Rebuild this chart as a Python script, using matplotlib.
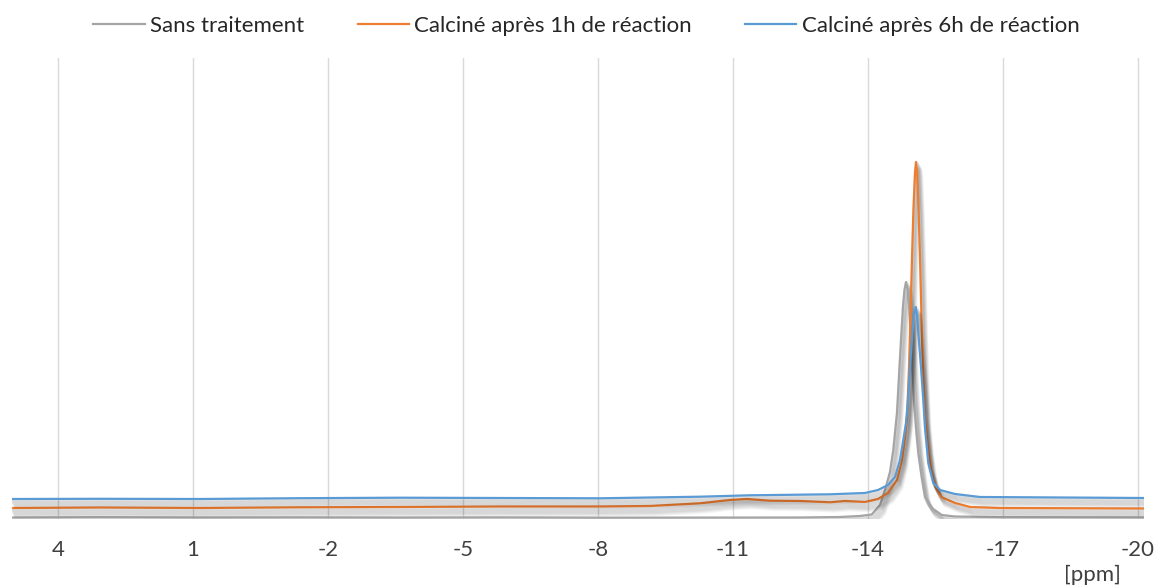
import matplotlib
matplotlib.use("Agg")
import matplotlib.pyplot as plt
import matplotlib.patheffects as pe

plt.rcParams['font.family'] = ['Lato', 'DejaVu Sans']

# ---- data (ppm, intensity) ----
sans_ppm = [5.022, 3.067, 0.844, -1.378, -3.6, -5.822, -8.044, -10.267, -12.489,
            -13.378, -13.822, -14.082, -14.267, -14.378, -14.489, -14.562, -14.644,
            -14.711, -14.778, -14.811, -14.844, -14.878, -14.911, -14.971, -15.022,
            -15.067, -15.118, -15.193, -15.267, -15.416, -15.638, -15.933, -16.933, -20.133]
sans_int = [0.5, 0.8, 0.5, 0.6, 0.4, 0.6, 0.3, 0.4, 0.5,
            1, 2, 3.5, 13, 28, 46, 68, 105,
            160, 212, 228, 236, 229, 214, 168, 118,
            90, 65, 41, 21, 10, 3, 1.5, 0.8, 0.6]

c1h_ppm = [5.022, 3.067, 0.844, -1.378, -3.6, -5.822, -8.044, -9.156, -10.267,
           -10.933, -11.311, -11.822, -12.489, -13.156, -13.489, -13.933, -14.222,
           -14.444, -14.644, -14.756, -14.822, -14.867, -14.911, -14.944, -14.978,
           -15.011, -15.044, -15.067, -15.089, -15.122, -15.156, -15.189, -15.222,
           -15.267, -15.333, -15.4, -15.489, -15.622, -15.933, -16.267, -16.933, -20.133]
c1h_int = [10, 10.5, 10, 10.7, 11, 11.5, 11.5, 12, 14.7,
           18, 19, 17.3, 17, 15.7, 17, 16, 19,
           25, 38, 58, 81, 100, 150, 200, 260,
           310, 345, 356, 348, 310, 260, 200, 150,
           100, 70, 48, 32, 21, 15, 11, 10, 9.5]

c6h_ppm = [5.022, 3.067, 0.844, -1.378, -3.6, -5.822, -8.044, -10.267, -11.378,
           -13.156, -13.933, -14.222, -14.444, -14.6, -14.711, -14.784, -14.844,
           -14.889, -14.933, -14.984, -15.022, -15.060, -15.089, -15.118, -15.178,
           -15.229, -15.267, -15.340, -15.451, -15.6, -15.933, -16.489, -20.133]
c6h_int = [19, 19.2, 19, 19.8, 20.3, 20, 19.7, 21.3, 22.7,
           23.7, 25, 28, 33, 41, 58, 78, 95,
           118, 151, 185, 203, 211, 203, 185, 151,
           118, 90, 55, 35, 28, 24, 21, 20]

labels = ['Sans traitement', 'Calciné après 1h de réaction', 'Calciné après 6h de réaction']
colors = ['#A5A5A5', '#ED7D31', '#5B9BD5']
tick_vals = [4, 1, -2, -5, -8, -11, -14, -17, -20]

W, H = 1159, 585
fig = plt.figure(figsize=(W / 100, H / 100), dpi=100)
ax = fig.add_axes([12 / W, 1 - 519 / H, (1144 - 12) / W, (519 - 58) / H])

shadow = [pe.SimpleLineShadow(offset=(0.4 * d, -0.75 * d), shadow_color='#000000',
                              alpha=0.045, linewidth=2.8) for d in range(1, 9)]
effects = shadow + [pe.Normal()]

series = [(sans_ppm, sans_int), (c1h_ppm, c1h_int), (c6h_ppm, c6h_int)]
for (xs, ys), lab, col in zip(series, labels, colors):
    ax.plot(xs, ys, color=col, lw=1.6, label=lab, path_effects=effects,
            solid_joinstyle='round')

ax.set_xlim(5.022, -20.133)
ax.set_ylim(-1, 460)
ax.set_xticks(tick_vals)
ax.set_xticklabels([str(v) for v in tick_vals])
ax.tick_params(axis='x', length=0, pad=15, labelsize=16, labelcolor='#404040')
ax.set_yticks([])
ax.grid(axis='x', color='#D9D9D9', lw=1.0)
ax.set_axisbelow(True)
for s in ax.spines.values():
    s.set_visible(False)

fig.text(1092 / W, 1 - 575 / H, '[ppm]', ha='center', va='center',
         fontsize=16, color='#404040')

leg = fig.legend(loc='center', bbox_to_anchor=(0.5 + 7 / W, 1 - 26 / H), ncol=3,
                 frameon=False, fontsize=16, handlelength=2.3, handletextpad=0.25,
                 columnspacing=2.4, labelcolor='#262626')
for line in leg.get_lines():
    line.set_path_effects([])
    line.set_linewidth(1.6)

fig.savefig('out.png', dpi=100)
